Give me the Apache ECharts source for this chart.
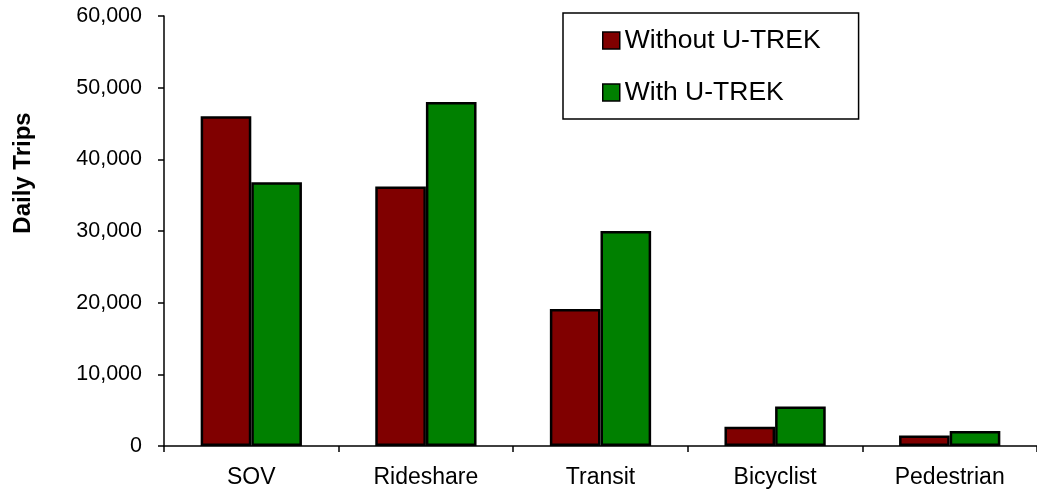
<!DOCTYPE html>
<html>
<head>
<meta charset="utf-8">
<script src="https://cdn.jsdelivr.net/npm/echarts@6/dist/echarts.min.js"></script>
<style>
html,body{margin:0;padding:0;background:#fff;}
#chart{width:1037px;height:493px;}
</style>
</head>
<body>
<div id="chart"></div>
<script>
const categories = ['SOV', 'Rideshare', 'Transit', 'Bicyclist', 'Pedestrian'];
const seriesNames = ['Without U-TREK', 'With U-TREK'];
const withoutUTrek = [46000, 36200, 19100, 2700, 1450];
const withUTrek = [36800, 48000, 30000, 5500, 2100];
const yTicks = [0, 10000, 20000, 30000, 40000, 50000, 60000];
const yAxisTitle = 'Daily Trips';

const FONT = '"Liberation Sans", Arial, sans-serif';
const chart = echarts.init(document.getElementById('chart'));
chart.setOption({
  animation: false,
  backgroundColor: '#ffffff',
  grid: { left: 164, right: -4, top: 16, bottom: 47, containLabel: false },
  legend: {
    orient: 'vertical',
    left: 563, top: 13,
    padding: [14, 38, 13, 39],
    borderColor: '#000', borderWidth: 1.5,
    backgroundColor: '#fff',
    itemWidth: 17, itemHeight: 17, itemGap: 25,
    icon: 'rect',
    itemStyle: { borderColor: '#000', borderWidth: 1.5 },
    textStyle: { fontFamily: FONT, fontSize: 26.5, color: '#000', lineHeight: 25 },
    data: seriesNames
  },
  xAxis: {
    type: 'category',
    data: categories,
    boundaryGap: true,
    axisLine: { lineStyle: { color: '#000', width: 1.5 } },
    axisTick: { show: true, length: 6, interval: 0, lineStyle: { color: '#000', width: 1.5 } },
    axisLabel: { fontFamily: FONT, fontSize: 23, color: '#000', margin: 20, interval: 0 },
    splitLine: { show: false }
  },
  yAxis: {
    type: 'value',
    min: yTicks[0], max: yTicks[yTicks.length - 1], interval: yTicks[1] - yTicks[0],
    axisLine: { show: true, lineStyle: { color: '#000', width: 1.5 } },
    axisTick: { show: true, length: 6, lineStyle: { color: '#000', width: 1.5 } },
    axisLabel: { fontFamily: FONT, fontSize: 21.5, color: '#000', margin: 22,
      formatter: v => v.toLocaleString('en-US') },
    splitLine: { show: false }
  },
  graphic: [{
    type: 'text',
    x: 23, y: 173, rotation: Math.PI / 2,
    style: { text: yAxisTitle, font: 'bold 24px ' + FONT, fill: '#000', align: 'center', verticalAlign: 'middle' }
  }],
  series: [
    { name: seriesNames[0], type: 'bar', data: withoutUTrek, barGap: '0%', barCategoryGap: '42%',
      itemStyle: { color: '#800000', borderColor: '#000', borderWidth: 2.5 } },
    { name: seriesNames[1], type: 'bar', data: withUTrek, barGap: '0%', barCategoryGap: '42%',
      itemStyle: { color: '#008000', borderColor: '#000', borderWidth: 2.5 } }
  ]
});
</script>
</body>
</html>
